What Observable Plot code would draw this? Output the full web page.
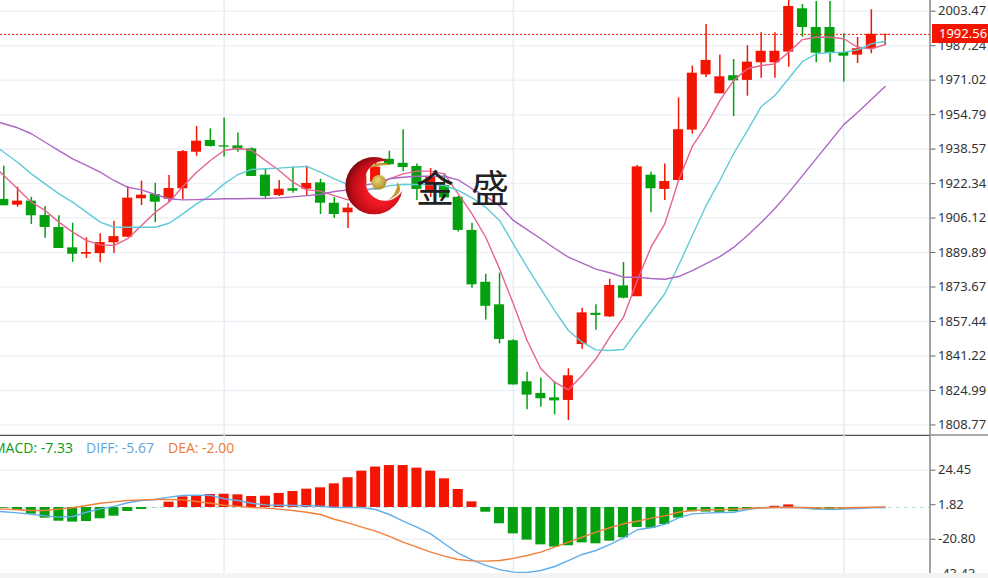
<!DOCTYPE html>
<html>
<head>
<meta charset="utf-8">
<script src="https://cdn.jsdelivr.net/npm/d3@7"></script>
<script src="https://cdn.jsdelivr.net/npm/@observablehq/plot@0.6"></script>
<style>
html,body{margin:0;padding:0;background:#fff;overflow:hidden}
#root{position:relative;width:988px;height:578px;overflow:hidden;background:#fff}
#main{position:absolute;left:0;top:0;width:988px;height:436px;overflow:hidden}
#sub{position:absolute;left:0;top:435px;width:988px;height:138px;overflow:hidden}
#foot{position:absolute;left:0;top:573px;width:988px;height:5px;background:#f4f4f4}
#sep{position:absolute;left:930px;top:434px;width:58px;height:2px;background:#aaa}
#price{position:absolute;left:932px;width:56px;height:19px;background:#f41500;color:#fff;font:13px/19px "Noto Sans",sans-serif;padding-left:7px;box-sizing:border-box;white-space:nowrap;overflow:hidden}
.lab{position:absolute;top:439px;font:14px/18px "Open Sans",sans-serif;white-space:nowrap}
.cjk{position:absolute;top:163px;font:38px/46px "Noto Sans CJK SC",sans-serif;color:#222}
#logo{position:absolute;left:340px;top:150px;width:70px;height:70px}
svg text{font-family:"Noto Sans",sans-serif}
</style>
</head>
<body>
<div id="root">
  <div id="main"></div>
  <div id="sub"></div>
  <div id="foot"></div>
  <div id="sep"></div>
  <div id="price"></div>
  <div class="lab" style="left:-7px;color:#0a9a14">MACD: -7.33</div>
  <div class="lab" style="left:86px;color:#5fa6e0">DIFF: -5.67</div>
  <div class="lab" style="left:168px;color:#ee7a34">DEA: -2.00</div>
  <svg id="logo" viewBox="0 0 210 210">
    <defs>
      <radialGradient id="red" cx="0.62" cy="0.55" r="0.6">
        <stop offset="0.45" stop-color="#f01822"/>
        <stop offset="0.8" stop-color="#c40d18"/>
        <stop offset="1" stop-color="#860a10"/>
      </radialGradient>
      <radialGradient id="gold" cx="0.4" cy="0.35" r="0.7">
        <stop offset="0" stop-color="#ecd679"/>
        <stop offset="1" stop-color="#a98a24"/>
      </radialGradient>
      <mask id="cut">
        <rect width="210" height="210" fill="#fff"/>
        <circle cx="135" cy="92" r="60" fill="#000"/>
      </mask>
    </defs>
    <circle cx="102" cy="107" r="86" fill="url(#red)" mask="url(#cut)"/>
    <circle cx="117" cy="97" r="22" fill="url(#gold)"/>
    <path d="M88,54 Q115,28 152,44 Q120,44 88,54Z" fill="#c29a30"/>
    <path d="M143,150 Q172,132 172,96 Q198,130 143,150Z" fill="#c29a30"/>
  </svg>
  <span class="cjk" style="left:416px">金</span>
  <span class="cjk" style="left:471px">盛</span>
</div>
<script>
// Candles (index = position along the axis)
const open = [1914.9,1912.2,1914.1,1907.3,1901.7,1892.1,1889.1,1889.4,1894.5,1897.1,1915.2,1917.2,1915,1919.9,1937.1,1942.6,1940.1,1940.1,1938.7,1926.3,1916.7,1919.9,1919.7,1922.7,1913.1,1908.6,1919.1,1923,1933.8,1931.9,1930.4,1918.3,1921.4,1915.9,1900.3,1875.9,1865.3,1848.4,1829.1,1823.6,1821.5,1820.3,1846.6,1861.3,1859.6,1874.2,1869.1,1926.3,1919.6,1923.8,1947.5,1973.5,1964.6,1973.1,1970.9,1979.2,1979.2,1984.2,2004.6,1995.8,1995.8,1984,1982.8,1985.8,1992.2];
const close = [1911.9,1914.1,1907.2,1901.7,1891.8,1889.1,1889.9,1894.6,1897.4,1915.5,1916.9,1913.6,1920,1937.4,1942.3,1939.8,1939.5,1938.2,1925.7,1916.3,1919.7,1918.8,1922.4,1913.1,1907.8,1910.8,1926.1,1930.1,1931.2,1929.9,1919.6,1925.3,1915.6,1900.3,1874.7,1864.6,1849,1827.6,1822.8,1821.1,1820.1,1831.9,1861.5,1860.3,1874.4,1868.4,1930.2,1919.9,1923.3,1947.7,1974.3,1980.3,1972.6,1970.7,1979.5,1984.6,1984.6,2005.7,1995.8,1983.7,1983.7,1982.3,1985.8,1992.6,1992.56];
const high = [1930.5,1920.6,1915.9,1911.6,1907.2,1903.7,1896.8,1898.7,1904.6,1921,1923.5,1922.5,1926.1,1937.9,1949.2,1948.1,1953.1,1946.2,1939.2,1929.3,1923.8,1930.1,1930.5,1924.4,1915.8,1912.8,1930.9,1933.2,1937.6,1947.7,1931.6,1929.4,1926.9,1916.4,1903.7,1879.7,1880.2,1848.8,1833.6,1830.8,1829.2,1835.2,1863.7,1865.3,1877.3,1885.2,1930.9,1927.7,1931.6,1962.7,1977.6,1997.2,1982.9,1980.7,1987.2,1993.3,1993.3,2009.9,2006.6,2008,2008,1992.8,1991.1,2004.1,1992.6];
const low = [1911.9,1911.2,1903.1,1896.6,1891.8,1885.3,1887.1,1885.1,1889.4,1897.1,1912,1904,1913.6,1914.7,1935.2,1939.5,1934.8,1937.1,1925.7,1915.2,1916.3,1917.8,1916.7,1907.8,1905.9,1901.2,1916.7,1919.1,1930.9,1927.9,1914.4,1915.8,1915.3,1899.6,1873.1,1858.2,1846.9,1827.6,1815.9,1817.1,1813.5,1810.8,1844.4,1853.3,1859.3,1868.1,1869.1,1908.6,1914.4,1923.3,1945.6,1972.3,1964.6,1953.9,1963.5,1971.9,1971.9,1977.1,1991.2,1979.2,1979.2,1970.1,1978.9,1983.4,1987.3];
// Moving averages; the first value belongs to the candle just off the left edge
const ma5 = [1932.3,1926.1,1919.9,1913.6,1909.7,1904.2,1899.5,1895.6,1893.5,1893.2,1896.4,1902.6,1908.9,1913.6,1921,1927.7,1933.2,1937.9,1939,1937.9,1933.2,1928.5,1923,1919.4,1918.8,1916.7,1914.7,1918.3,1920.6,1924.6,1926.9,1928.2,1928.2,1926.9,1917.5,1908.1,1897.1,1882.2,1865.8,1848.5,1835.2,1828.9,1825.3,1832,1839.9,1850,1859.5,1876.7,1892.4,1903.4,1923.8,1939.9,1949.7,1961.4,1970.9,1976.4,1977.9,1978.7,1984.2,1990.1,1991.2,1991.2,1990.5,1986.5,1985.8,1987.7];
const ma10 = [1941.8,1937.1,1932.4,1926.9,1922.2,1917.5,1913.6,1908.9,1904.2,1901.8,1901.8,1901.8,1901.8,1903.7,1908.1,1912.8,1916.7,1922.2,1926.6,1929,1929.3,1929.6,1930.1,1930.4,1927.7,1924.6,1921.9,1920,1919.6,1921.4,1921.9,1921.9,1921.9,1921.4,1919.1,1915.6,1911.2,1905,1894,1883,1872.8,1862.6,1853.2,1847.7,1844.1,1843.8,1844.3,1853.2,1861.8,1870.5,1883.8,1897.9,1912,1923.8,1936.5,1947.3,1958.6,1963.8,1971.8,1979.8,1983.4,1984,1984.2,1985.3,1988.1,1989.3];
const ma20 = [1952.5,1950.5,1948.6,1945.8,1941.8,1937.9,1934,1930.9,1927.7,1923.8,1920.6,1919.4,1917.2,1915.2,1914.7,1914.8,1915,1915.2,1915.2,1915.3,1915.3,1915.6,1916.1,1916.7,1917.2,1918.6,1919.4,1921.4,1922.5,1924.6,1925.3,1925.8,1925.8,1925.8,1924.1,1919.9,1916.3,1912,1905,1900.7,1896.4,1891.9,1887.7,1884.9,1882.1,1880.4,1878.3,1878.3,1877.7,1877.3,1878.6,1881.4,1884.7,1888,1892.3,1897.9,1904,1910.6,1918.1,1926.1,1934.1,1942.1,1950.1,1955.8,1961.9,1968];
// MACD panel; diff and dea also start one candle off the left edge
const macd = [-0.5,-2,-4.4,-7,-9,-9.6,-9.2,-7.4,-5.7,-2.6,-1.3,-0.1,3.5,7,7.7,8.5,8.7,8.3,7.2,7.4,9.2,10.5,12,12.9,15.5,19.5,23.8,26.5,27.5,27.5,25.8,23.8,18.8,11.8,3.7,-3.1,-10.7,-17.3,-21.4,-24.5,-26,-25.1,-23.2,-23.8,-22.1,-19.9,-13.1,-13.6,-11.2,-7,-2.8,-3,-3.2,-2.8,-1.5,-0.7,0.8,1.7,-0.7,-1.5,-1.5,-1.1,-0.3,-0.2,0];
const diff = [-2.3,-2.8,-3.5,-4.4,-5.5,-6.3,-5.9,-3.1,-0.9,0.7,3.1,4.6,5.2,6.8,7.9,8.1,7.9,5.7,4.6,2.8,1.7,1.5,1.3,1.1,0.9,0,0,0,-1.3,-4.6,-9,-12.9,-17.3,-23.8,-29.9,-34.3,-38,-40.7,-42.4,-42.6,-41.3,-38.7,-34.8,-30.8,-28.2,-24.3,-19.9,-14.6,-13.3,-11.1,-6.8,-4.2,-3.7,-3.3,-3.1,-1.3,-0.2,0,0.2,-0.2,-1.1,-1.3,-1.1,-0.7,-0.2,0];
const dea = [-0.8,-1.1,-1.5,-2,-2,-1.1,-0.2,1.3,2.8,3.7,4.6,5,5.2,5.2,5,3.9,2.8,1.5,0.7,0,-0.4,-1.1,-2,-3.1,-4.6,-7.7,-10.1,-12.9,-15.5,-19,-22.7,-26,-29.3,-31.9,-34.1,-35,-35.2,-34.8,-33.4,-31.5,-29.3,-26,-22.7,-19.5,-16.2,-13.3,-10.7,-9,-7,-5.5,-3.1,-2,-1.5,-1.5,-1.1,-0.7,-0.2,0,0,0,-0.2,-0.4,-0.2,0,0.2,0.4];
// Axis ticks and markers
const priceTicks = [2003.47,1987.24,1971.02,1954.79,1938.57,1922.34,1906.12,1889.89,1873.67,1857.44,1841.22,1824.99,1808.77];
const macdTicks = [24.45,1.82,-20.80,-43.43];
const macdGrid = [24.45,-20.80,-43.43];
const vGrid = [16,37,61];
const lastPrice = 1992.56;

const RED = "#f41500", GREEN = "#04a010", GRID = "#eef1f5", VGRID = "#e4edf4";
const PINK = "#e6628f", CYAN = "#5fcbd8", PURPLE = "#ad66c4", BLUE = "#62aeea", ORANGE = "#f0803c";
const halfBody = 0.365;
const xScale = {domain:[-0.24,67.26], range:[0,929.5]};
const idx = d3.range(open.length);
const up = idx.filter(i => close[i] >= open[i]);
const down = idx.filter(i => close[i] < open[i]);

const candle = (ids, color) => [
  Plot.ruleX(ids, {x:i=>i, y1:i=>low[i], y2:i=>high[i], stroke:color, strokeWidth:1.5, clip:true}),
  Plot.rect(ids, {x1:i=>i-halfBody, x2:i=>i+halfBody, y1:i=>open[i], y2:i=>close[i], fill:color, clip:true})
];
const line = (vals, color, clip) => Plot.line(d3.range(vals.length), {x:i=>i-1, y:i=>vals[i], stroke:color, strokeWidth:1.4, clip:true});

const mainPlot = Plot.plot({
  width:988, height:436, marginLeft:0, marginRight:58.5, marginTop:0, marginBottom:1,
  x:{...xScale, axis:null},
  y:{domain:[1803.8,2008.5], range:[435,0]},
  marks:[
    Plot.ruleY(priceTicks,{stroke:GRID,strokeWidth:1.5}),
    Plot.ruleX(vGrid,{stroke:VGRID,strokeWidth:1.5}),
    ...candle(up,RED),
    ...candle(down,GREEN),
    line(ma5,PINK), line(ma10,CYAN), line(ma20,PURPLE),
    Plot.ruleY([lastPrice],{stroke:RED,strokeWidth:1,strokeDasharray:"2,2"}),
    Plot.axisY(priceTicks,{anchor:"right",tickSize:5,tickPadding:3,tickFormat:d=>d.toFixed(2),fontSize:13,fill:"#333",stroke:"#666",label:null}),
    Plot.frame({anchor:"right",stroke:"#666",strokeWidth:1.2}),
    Plot.frame({anchor:"bottom",stroke:"#555",strokeWidth:1.5})
  ]
});
document.getElementById("main").appendChild(mainPlot);

const bars = (ids, color) => Plot.rect(ids, {x1:i=>i-halfBody, x2:i=>i+halfBody, y1:0, y2:i=>macd[i], fill:color});
const subPlot = Plot.plot({
  width:988, height:143, marginLeft:0, marginRight:58.5, marginTop:0, marginBottom:0,
  x:{...xScale, axis:null},
  y:{domain:[-46.56,47.2], range:[143,0]},
  marks:[
    Plot.ruleY(macdGrid,{stroke:GRID,strokeWidth:1.5}),
    Plot.ruleX(vGrid,{stroke:VGRID,strokeWidth:1.5}),
    Plot.ruleY([0],{stroke:"#bcdcf2",strokeWidth:1,strokeDasharray:"4,4"}),
    bars(idx.filter(i=>macd[i]>=0),RED),
    bars(idx.filter(i=>macd[i]<0),GREEN),
    line(diff,BLUE), line(dea,ORANGE),
    Plot.axisY(macdTicks,{anchor:"right",tickSize:5,tickPadding:3,tickFormat:d=>d.toFixed(2),fontSize:13,fill:"#333",stroke:"#666",label:null}),
    Plot.frame({anchor:"right",stroke:"#666",strokeWidth:1.2})
  ]
});
document.getElementById("sub").appendChild(subPlot);

const priceBox = document.getElementById("price");
priceBox.textContent = lastPrice.toFixed(2);
priceBox.style.top = (mainPlot.scale("y").apply(lastPrice) - 9.5) + "px";
</script>
</body>
</html>
